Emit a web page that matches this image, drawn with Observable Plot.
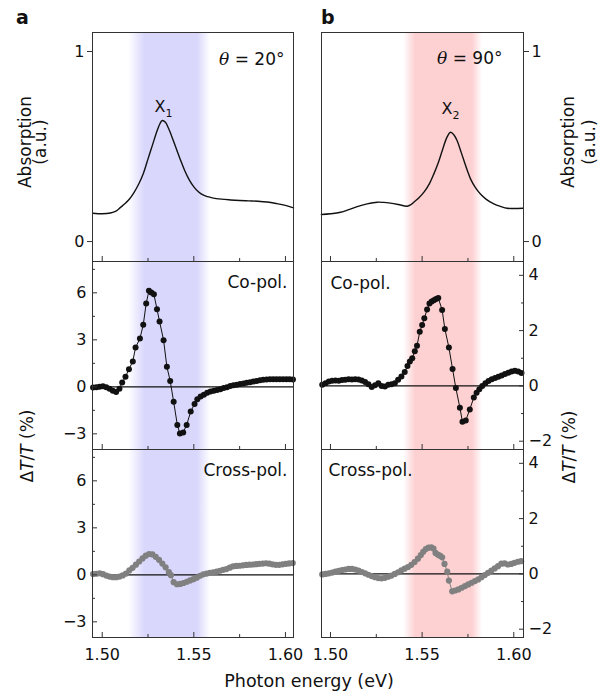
<!DOCTYPE html>
<html><head><meta charset="utf-8">
<script src="https://cdn.jsdelivr.net/npm/d3@7"></script>
<script src="https://cdn.jsdelivr.net/npm/@observablehq/plot@0.6"></script>
<style>
html,body{margin:0;padding:0;background:#fff;}
#chart{position:relative;width:600px;height:696px;overflow:hidden;font-family:"DejaVu Sans",sans-serif;}
#chart svg{position:absolute;overflow:visible;}
</style></head><body><div id="chart"></div>
<script>
// ---------- data ----------
const xTicksMajor = [1.50, 1.55, 1.60];
const xTicksMinor = [1.525, 1.575];
const absTicks = [0, 1];
const dtTicksA = [-3, 0, 3, 6];
const dtMinorA = [-1.5, 1.5, 4.5, 7.5];
const dtTicksB = [-2, 0, 2, 4];
const dtMinorB = [-1, 1, 3];
const bandA = [1.5144, 1.5592];
const bandB = [1.5400, 1.5830];
const angleLabels = ["θ = 20°", "θ = 90°"];
const peakLabels = ["X1", "X2"];
const peakEnergies = [1.5335, 1.5655];
const rowLabels = ["Co-pol.", "Cross-pol."];

const absorptionA = [[1.4950,0.149],[1.5000,0.146],[1.5045,0.150],[1.5075,0.160],[1.5100,0.180],[1.5125,0.200],[1.5150,0.225],[1.5175,0.260],[1.5200,0.304],[1.5225,0.360],[1.5250,0.435],[1.5275,0.510],[1.5300,0.584],[1.5315,0.620],[1.5328,0.637],[1.5345,0.628],[1.5360,0.600],[1.5375,0.565],[1.5400,0.500],[1.5425,0.435],[1.5450,0.374],[1.5475,0.325],[1.5500,0.288],[1.5525,0.262],[1.5550,0.245],[1.5575,0.236],[1.5600,0.230],[1.5650,0.223],[1.5700,0.219],[1.5750,0.216],[1.5800,0.214],[1.5850,0.212],[1.5900,0.208],[1.5950,0.200],[1.6000,0.190],[1.6044,0.177]];

const absorptionB = [[1.4950,0.142],[1.5000,0.146],[1.5055,0.154],[1.5100,0.168],[1.5146,0.184],[1.5200,0.198],[1.5255,0.207],[1.5290,0.206],[1.5327,0.202],[1.5370,0.195],[1.5418,0.186],[1.5440,0.195],[1.5455,0.207],[1.5480,0.228],[1.5510,0.260],[1.5540,0.305],[1.5564,0.356],[1.5590,0.420],[1.5610,0.479],[1.5635,0.548],[1.5655,0.575],[1.5673,0.562],[1.5691,0.530],[1.5710,0.478],[1.5728,0.426],[1.5746,0.375],[1.5764,0.330],[1.5790,0.285],[1.5818,0.250],[1.5850,0.222],[1.5891,0.198],[1.5930,0.184],[1.5964,0.175],[1.6000,0.174],[1.6050,0.175]];

const coPolA = [[1.4950,-0.05],[1.4968,-0.03],[1.4986,0.00],[1.5004,0.03],[1.5022,-0.03],[1.5040,-0.13],[1.5058,-0.25],[1.5076,-0.33],[1.5094,-0.12],[1.5109,0.28],[1.5127,0.64],[1.5146,1.13],[1.5167,1.62],[1.5182,2.51],[1.5206,3.09],[1.5224,3.96],[1.5240,5.32],[1.5255,6.13],[1.5268,6.02],[1.5282,5.91],[1.5299,4.96],[1.5313,4.17],[1.5335,2.98],[1.5353,1.28],[1.5371,0.38],[1.5390,-0.96],[1.5410,-2.43],[1.5424,-2.98],[1.5442,-2.91],[1.5461,-2.43],[1.5483,-1.57],[1.5504,-1.10],[1.5519,-0.79],[1.5537,-0.62],[1.5555,-0.50],[1.5573,-0.38],[1.5591,-0.30],[1.5609,-0.25],[1.5627,-0.20],[1.5645,-0.15],[1.5663,-0.08],[1.5681,-0.02],[1.5699,0.05],[1.5717,0.10],[1.5735,0.14],[1.5753,0.18],[1.5771,0.22],[1.5789,0.26],[1.5807,0.30],[1.5825,0.34],[1.5843,0.38],[1.5861,0.42],[1.5879,0.45],[1.5897,0.47],[1.5915,0.49],[1.5933,0.49],[1.5951,0.48],[1.5969,0.48],[1.5987,0.49],[1.6005,0.49],[1.6023,0.48],[1.6041,0.47]];

const coPolB = [[1.4955,0.04],[1.4973,0.10],[1.4991,0.16],[1.5009,0.19],[1.5027,0.20],[1.5045,0.19],[1.5063,0.21],[1.5081,0.22],[1.5099,0.24],[1.5117,0.23],[1.5135,0.24],[1.5153,0.23],[1.5171,0.20],[1.5189,0.14],[1.5207,0.06],[1.5225,-0.04],[1.5243,0.02],[1.5261,0.10],[1.5279,0.00],[1.5297,-0.02],[1.5315,0.04],[1.5333,0.06],[1.5351,0.10],[1.5369,0.22],[1.5387,0.34],[1.5405,0.50],[1.5420,0.72],[1.5433,0.88],[1.5446,1.00],[1.5460,1.25],[1.5472,1.45],[1.5487,1.96],[1.5500,2.20],[1.5512,2.45],[1.5527,2.76],[1.5540,2.98],[1.5552,3.05],[1.5564,3.10],[1.5576,3.14],[1.5588,3.18],[1.5609,2.75],[1.5624,2.06],[1.5646,1.39],[1.5666,0.61],[1.5684,-0.08],[1.5706,-0.79],[1.5720,-1.30],[1.5738,-1.25],[1.5760,-0.85],[1.5782,-0.42],[1.5797,-0.25],[1.5812,-0.12],[1.5828,0.00],[1.5845,0.10],[1.5862,0.18],[1.5880,0.24],[1.5898,0.29],[1.5916,0.33],[1.5934,0.38],[1.5952,0.43],[1.5970,0.48],[1.5988,0.52],[1.6006,0.55],[1.6024,0.52],[1.6042,0.47]];

const crossPolA = [[1.4950,0.05],[1.4968,0.07],[1.4986,0.10],[1.5004,0.04],[1.5022,-0.05],[1.5040,-0.11],[1.5058,-0.15],[1.5076,-0.15],[1.5094,-0.11],[1.5112,-0.04],[1.5130,0.08],[1.5148,0.28],[1.5166,0.45],[1.5184,0.65],[1.5202,0.85],[1.5220,1.05],[1.5238,1.22],[1.5256,1.33],[1.5274,1.30],[1.5292,1.15],[1.5310,0.96],[1.5328,0.72],[1.5346,0.48],[1.5364,0.17],[1.5375,-0.02],[1.5390,-0.47],[1.5408,-0.60],[1.5426,-0.58],[1.5444,-0.52],[1.5462,-0.44],[1.5480,-0.36],[1.5498,-0.28],[1.5516,-0.18],[1.5534,-0.06],[1.5552,0.03],[1.5570,0.08],[1.5588,0.12],[1.5606,0.16],[1.5624,0.20],[1.5642,0.26],[1.5660,0.32],[1.5678,0.37],[1.5696,0.46],[1.5714,0.54],[1.5732,0.57],[1.5750,0.58],[1.5768,0.61],[1.5786,0.63],[1.5804,0.65],[1.5822,0.66],[1.5840,0.68],[1.5858,0.70],[1.5876,0.72],[1.5894,0.74],[1.5912,0.71],[1.5930,0.67],[1.5948,0.64],[1.5966,0.64],[1.5984,0.67],[1.6002,0.70],[1.6020,0.73],[1.6040,0.75]];

const crossPolB = [[1.4955,-0.02],[1.4973,0.00],[1.4991,0.02],[1.5009,0.05],[1.5027,0.08],[1.5045,0.11],[1.5063,0.14],[1.5081,0.16],[1.5099,0.18],[1.5117,0.18],[1.5135,0.16],[1.5153,0.12],[1.5171,0.07],[1.5189,0.02],[1.5207,-0.03],[1.5225,-0.08],[1.5243,-0.12],[1.5261,-0.15],[1.5279,-0.16],[1.5297,-0.14],[1.5315,-0.10],[1.5333,-0.06],[1.5351,0.00],[1.5369,0.06],[1.5387,0.13],[1.5405,0.19],[1.5423,0.25],[1.5441,0.33],[1.5459,0.43],[1.5477,0.55],[1.5493,0.68],[1.5506,0.80],[1.5520,0.90],[1.5535,0.95],[1.5550,0.96],[1.5562,0.92],[1.5573,0.76],[1.5585,0.70],[1.5597,0.66],[1.5609,0.60],[1.5622,0.36],[1.5637,0.08],[1.5646,-0.24],[1.5664,-0.63],[1.5680,-0.60],[1.5698,-0.56],[1.5716,-0.50],[1.5734,-0.44],[1.5752,-0.38],[1.5770,-0.32],[1.5788,-0.26],[1.5806,-0.20],[1.5824,-0.12],[1.5842,-0.04],[1.5860,0.04],[1.5878,0.12],[1.5896,0.20],[1.5914,0.28],[1.5932,0.37],[1.5950,0.38],[1.5968,0.34],[1.5986,0.36],[1.6004,0.40],[1.6022,0.44],[1.6040,0.46]];

// ---------- layout / style ----------
const FONT = "DejaVu Sans";
const intFmt = d3.format("d");
const xDomA = [1.4947, 1.6044], xDomB = [1.4951, 1.6053];
const absDom = [-0.105, 1.1], dtDomA = [-4, 8], dtDomB = [-2.3, 4.5];
const cols = [
  {left: 0, width: 300, ml: 92, mr: 7, xDom: xDomA, band: bandA, color: "#d9d7fc", stops: [[0,0],[0.2,1],[0.84,1],[1,0]]},
  {left: 300, width: 300, ml: 21, mr: 77, xDom: xDomB, band: bandB, color: "#fdd0d2", stops: [[0,0],[0.15,1],[0.87,1],[1,0]]}
];
const rows = [{top: 32, h: 229}, {top: 261, h: 188}, {top: 449, h: 188}];
const toObj = arr => arr.map(([e, v]) => ({e, v}));
const chart = document.getElementById("chart");

function richText(svg) {
  d3.select(svg).selectAll("text").each(function () {
    const t = d3.select(this), s = t.text();
    if (s.startsWith("θ")) {
      t.text(null);
      t.append("tspan").attr("font-family", "DejaVu Serif").attr("font-style", "italic").text("θ");
      t.append("tspan").text(s.slice(1));
    } else if (/^X\d$/.test(s)) {
      t.text(null);
      t.append("tspan").text("X");
      t.append("tspan").attr("font-size", 11).attr("dy", 5).text(s[1]);
    }
  });
}

function panel(ci, ri, yDom, marks, yAxes) {
  const c = cols[ci], r = rows[ri];
  const mb = ri === 2 ? 34 : 0;
  const gid = `grad${ci}${ri}`;
  const axisX = [
    Plot.axisX({ticks: xTicksMajor, anchor: "bottom", tickSize: 5, dy: -5, tickFormat: () => "", label: null, stroke: "#333"}),
    Plot.axisX({ticks: xTicksMinor, anchor: "bottom", tickSize: 3, dy: -3, tickFormat: () => "", label: null, stroke: "#333"})
  ];
  if (ri === 2) axisX.push(Plot.axisX({ticks: xTicksMajor, anchor: "bottom", tickSize: 0, tickPadding: 11, tickFormat: d3.format(".2f"), label: null, fontSize: 16}));
  const svg = Plot.plot({
    width: c.width, height: r.h + mb,
    marginLeft: c.ml, marginRight: c.mr, marginTop: 0, marginBottom: mb,
    x: {domain: c.xDom}, y: {domain: yDom},
    style: {fontFamily: FONT, fontSize: "16px", background: "transparent", overflow: "visible", color: "#111"},
    marks: [
      Plot.rect([c.band], {x1: d => d[0], x2: d => d[1], y1: yDom[0], y2: yDom[1], fill: `url(#${gid})`}),
      ...marks,
      ...axisX,
      ...yAxes,
      Plot.frame({stroke: "#333", strokeWidth: 1})
    ]
  });
  const defs = d3.select(svg).insert("defs", ":first-child");
  const g = defs.append("linearGradient").attr("id", gid).attr("x1", 0).attr("x2", 1).attr("y1", 0).attr("y2", 0);
  c.stops.forEach(([o, a]) => g.append("stop").attr("offset", o).attr("stop-color", c.color).attr("stop-opacity", a));
  richText(svg);
  svg.style.left = c.left + "px";
  svg.style.top = r.top + "px";
  chart.appendChild(svg);
}

function yAxesDT(ci, ticks, minor) {
  const anchor = ci === 0 ? "left" : "right";
  const s = ci === 0 ? 1 : -1;
  return [
    Plot.axisY({ticks, anchor, tickSize: 0, tickPadding: ci === 0 ? 6 : 5, tickFormat: intFmt, label: null, fontSize: 16}),
    Plot.axisY({ticks, anchor, tickSize: 5, dx: 5 * s, tickFormat: () => "", label: null, stroke: "#333"}),
    Plot.axisY({ticks: minor, anchor, tickSize: 3, dx: 3 * s, tickFormat: () => "", label: null, stroke: "#333"})
  ];
}

// Row 1: absorption
[absorptionA, absorptionB].forEach((data, ci) => {
  const anchor = ci === 0 ? "left" : "right";
  panel(ci, 0, absDom, [
    Plot.line(toObj(data), {x: "e", y: "v", stroke: "#111", strokeWidth: 1.4, curve: "catmull-rom"}),
    Plot.text([angleLabels[ci]], {text: d => d, frameAnchor: "top-right", dx: ci === 0 ? -9 : -21, dy: ci === 0 ? 27.5 : 26, textAnchor: "end", lineAnchor: "middle", fontSize: 17, fill: "#111"}),
    Plot.text([peakLabels[ci]], {text: d => d, x: () => peakEnergies[ci], y: () => (ci === 0 ? 0.71 : 0.70), textAnchor: "middle", lineAnchor: "middle", fontSize: 16, fill: "#111"})
  ], [
    Plot.axisY({ticks: absTicks, anchor, tickSize: 5, tickPadding: 3, tickFormat: intFmt, label: null, fontSize: 16, stroke: "#333"})
  ]);
});

// Row 2: co-pol
[[coPolA, dtDomA, dtTicksA, dtMinorA], [coPolB, dtDomB, dtTicksB, dtMinorB]].forEach(([data, dom, ticks, minor], ci) => {
  panel(ci, 1, dom, [
    Plot.ruleY([0], {stroke: "#111", strokeWidth: 1.2}),
    Plot.line(toObj(data), {x: "e", y: "v", stroke: "#111", strokeWidth: 1}),
    Plot.dot(toObj(data), {x: "e", y: "v", r: 3, fill: "#111", stroke: "none"}),
    Plot.text([rowLabels[0]], {text: d => d, frameAnchor: ci === 0 ? "top-right" : "top-left", dx: ci === 0 ? -6 : 9, dy: ci === 0 ? 21.5 : 22.5, textAnchor: ci === 0 ? "end" : "start", lineAnchor: "middle", fontSize: 17, fill: "#111"})
  ], yAxesDT(ci, ticks, minor));
});

// Row 3: cross-pol
[[crossPolA, dtDomA, dtTicksA, dtMinorA], [crossPolB, dtDomB, dtTicksB, dtMinorB]].forEach(([data, dom, ticks, minor], ci) => {
  panel(ci, 2, dom, [
    Plot.ruleY([0], {stroke: "#111", strokeWidth: 1.2}),
    Plot.line(toObj(data), {x: "e", y: "v", stroke: "#808080", strokeWidth: 1}),
    Plot.dot(toObj(data), {x: "e", y: "v", r: 3.1, fill: "#808080", stroke: "none"}),
    Plot.text([rowLabels[1]], {text: d => d, frameAnchor: ci === 0 ? "top-right" : "top-left", dx: ci === 0 ? -6 : 7, dy: 21.5, textAnchor: ci === 0 ? "end" : "start", lineAnchor: "middle", fontSize: 17, fill: "#111"})
  ], yAxesDT(ci, ticks, minor));
});

// ---------- overlay titles ----------
const ov = d3.create("svg").attr("width", 600).attr("height", 696)
  .style("left", "0px").style("top", "0px")
  .attr("font-family", FONT).attr("fill", "#111");
ov.append("text").attr("x", 16).attr("y", 24).attr("font-weight", "bold").attr("font-size", 19).text("a");
ov.append("text").attr("x", 321).attr("y", 24).attr("font-weight", "bold").attr("font-size", 19).text("b");
ov.append("text").attr("x", 309).attr("y", 687).attr("text-anchor", "middle").attr("font-size", 17.5).text("Photon energy (eV)");
function vlabel(x, y, parts) {
  const t = ov.append("text").attr("transform", `translate(${x},${y}) rotate(-90)`).attr("text-anchor", "middle").attr("font-size", 17);
  parts.forEach(([s, it]) => t.append("tspan").attr("font-style", it ? "italic" : null).text(s));
}
const dtParts = [["Δ"], ["T", true], ["/"], ["T", true], [" (%)"]];
vlabel(31, 142, [["Absorption"]]);
vlabel(46, 142, [["(a.u.)"]]);
vlabel(574, 142, [["Absorption"]]);
vlabel(595, 142, [["(a.u.)"]]);
vlabel(33, 446, dtParts);
vlabel(575, 447, dtParts);
chart.appendChild(ov.node());
</script></body></html>
